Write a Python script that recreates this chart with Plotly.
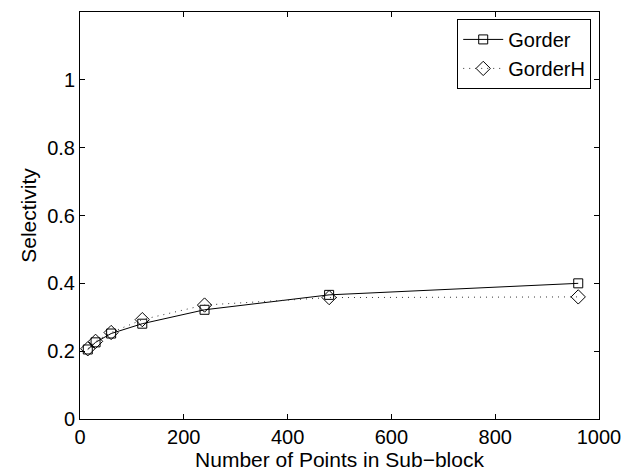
import plotly.graph_objects as go

points = [15, 30, 60, 120, 240, 480, 960]
gorder = [0.205, 0.226, 0.252, 0.281, 0.322, 0.366, 0.400]
gorderh = [0.207, 0.229, 0.255, 0.293, 0.336, 0.358, 0.360]

fig = go.Figure()
fig.add_trace(go.Scatter(x=points, y=gorder, name="Gorder", mode="lines+markers",
                         line=dict(color="black", width=1),
                         marker=dict(symbol="square-open", size=9, color="black", line=dict(width=1))))
fig.add_trace(go.Scatter(x=points, y=gorderh, name="GorderH", mode="lines+markers",
                         line=dict(color="#333333", width=1, dash="1px,5px"),
                         marker=dict(symbol="diamond-open", size=11, color="black", line=dict(width=1))))

axis_common = dict(showline=True, linecolor="black", linewidth=1, mirror="ticks",
                   ticks="inside", ticklen=5, tickcolor="black", showgrid=False,
                   zeroline=False, automargin=False, tickfont=dict(size=20, color="black"))
fig.update_xaxes(range=[0, 1000], tickvals=[0, 200, 400, 600, 800, 1000],
                 title=dict(text="Number of Points in Sub\u2212block", font=dict(size=21, color="black"), standoff=0),
                 **axis_common)
fig.update_yaxes(range=[0, 1.2], tickvals=[0, 0.2, 0.4, 0.6, 0.8, 1], ticktext=["0", "0.2", "0.4", "0.6", "0.8", "1"],
                 title=dict(text="Selectivity", font=dict(size=21, color="black"), standoff=4),
                 **axis_common)
fig.update_layout(
    width=628, height=473,
    margin=dict(l=80, r=29, t=12, b=54),
    plot_bgcolor="white", paper_bgcolor="white",
    font=dict(family="Liberation Sans, Arial, sans-serif", color="black"),
    legend=dict(x=0.985, y=0.983, xanchor="right", yanchor="top",
                bordercolor="black", borderwidth=1, bgcolor="white",
                font=dict(size=20), tracegroupgap=0, itemwidth=40),
    showlegend=True,
)
fig.write_html("out.html")
